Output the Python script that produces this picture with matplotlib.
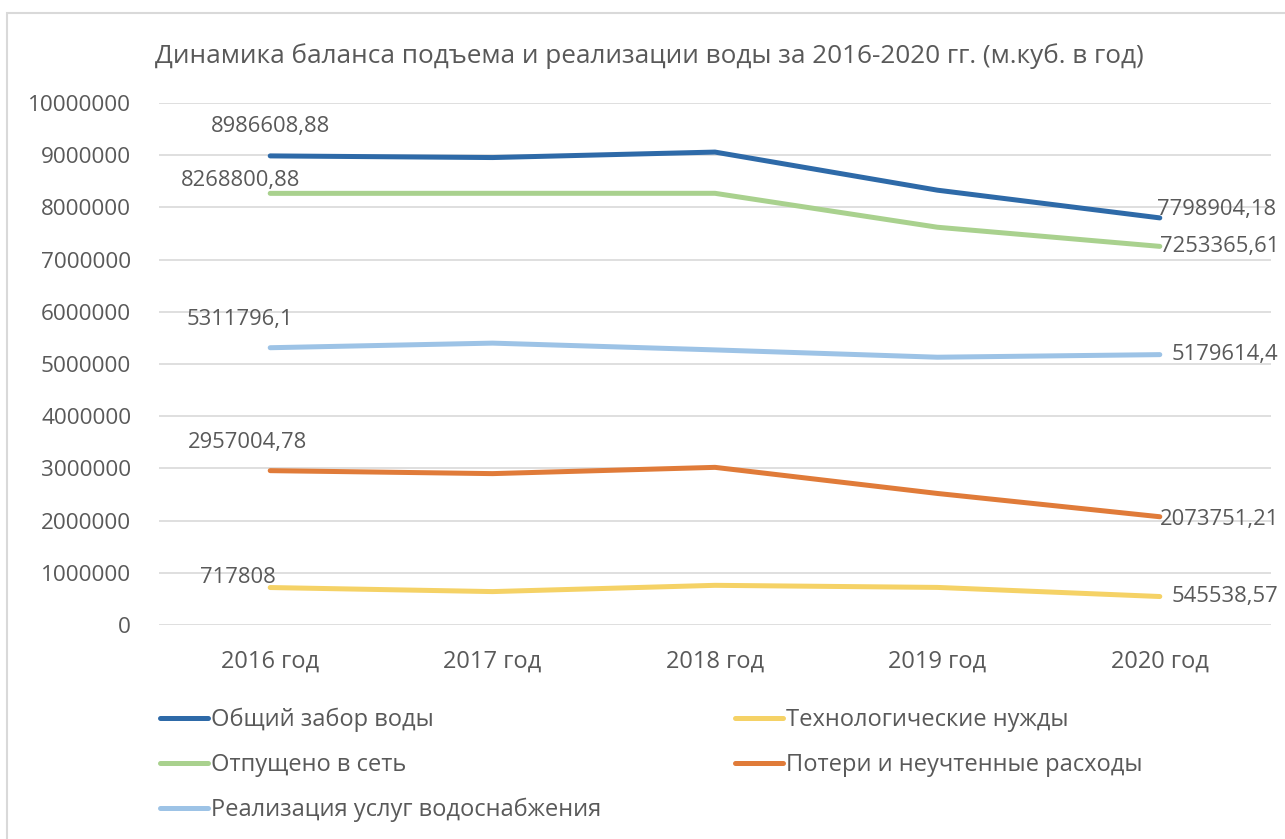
import matplotlib.pyplot as plt
from matplotlib.patches import Rectangle

plt.rcParams['font.family'] = ['Open Sans', 'DejaVu Sans']

years = ["2016 год", "2017 год", "2018 год", "2019 год", "2020 год"]

total_intake = [8986608.88, 8955000, 9060000, 8330000, 7798904.18]
to_network = [8268800.88, 8270000, 8270000, 7620000, 7253365.61]
sales = [5311796.1, 5400000, 5270000, 5130000, 5179614.4]
tech_needs = [717808, 640000, 760000, 720000, 545538.57]
losses = [2957004.78, 2900000, 3020000, 2520000, 2073751.21]

names = ["Общий забор воды", "Отпущено в сеть", "Реализация услуг водоснабжения",
         "Технологические нужды", "Потери и неучтенные расходы"]
series = [total_intake, to_network, sales, tech_needs, losses]
colors = ["#2E6AA8", "#A9D18E", "#9DC3E6", "#F5D266", "#E07B39"]

# label text for first / last points, offsets in pixels
first_labels = ["8986608,88", "8268800,88", "5311796,1", "717808", "2957004,78"]
last_labels = ["7798904,18", "7253365,61", "5179614,4", "545538,57", "2073751,21"]
first_off = [(0, 29), (-30, 13), (-30, 28), (-32, 10), (-23, 28)]
last_off = [(-3, 8), (0, 0), (12, 0), (12, 0), (0, -3)]

txt = "#595959"
W, H = 1285, 839
fig = plt.figure(figsize=(W / 100, H / 100), dpi=100)
ax = fig.add_axes([159 / W, 1 - 625 / H, (1271 - 159) / W, (625 - 103) / H])

x = list(range(len(years)))
lines = []
for name, vals, c, fl, ll, fo, lo in zip(names, series, colors, first_labels,
                                          last_labels, first_off, last_off):
    ln, = ax.plot(x, vals, color=c, lw=3.6, solid_capstyle="round",
                  solid_joinstyle="round", label=name, zorder=3)
    lines.append(ln)
    ax.annotate(fl, (x[0], vals[0]), xytext=fo, textcoords="offset pixels",
                ha="center", va="center", fontsize=15.8, color=txt)
    ax.annotate(ll, (x[-1], vals[-1]), xytext=lo, textcoords="offset pixels",
                ha="left", va="center", fontsize=15.8, color=txt)

ax.set_xlim(-0.5, len(years) - 0.5)
ax.set_ylim(0, 10000000)
ax.set_yticks(range(0, 10000001, 1000000))
ax.set_yticklabels([str(v) for v in range(0, 10000001, 1000000)])
ax.set_xticks(x)
ax.set_xticklabels(years)
ax.tick_params(length=0, labelcolor=txt)
ax.tick_params(axis="y", pad=20, labelsize=16.2)
ax.tick_params(axis="x", pad=18, labelsize=17)
ax.grid(axis="y", color="#D9D9D9", lw=1.2, zorder=0)
for s in ax.spines.values():
    s.set_visible(False)

fig.text(0.505, 1 - 56 / H,
         "Динамика баланса подъема и реализации воды за 2016-2020 гг. (м.куб. в год)",
         ha="center", va="center", fontsize=18.8, color=txt)

leg_kw = dict(loc="upper left", frameon=False, fontsize=17, handlelength=2.05,
              handletextpad=0.12, labelspacing=0.88, borderpad=0, borderaxespad=0,
              labelcolor=txt)
fig.legend(lines[:3], names[:3], bbox_to_anchor=(160 / W, 1 - 708 / H), **leg_kw)
fig.legend(lines[3:], names[3:], bbox_to_anchor=(735 / W, 1 - 708 / H), **leg_kw)

fig.patches.append(Rectangle((7 / W, -0.1), 1.2, 1 - 13 / H + 0.1, fill=False,
                             edgecolor="#D9D9D9", lw=1.5, transform=fig.transFigure))

fig.savefig("out.png", dpi=100, facecolor="white")
